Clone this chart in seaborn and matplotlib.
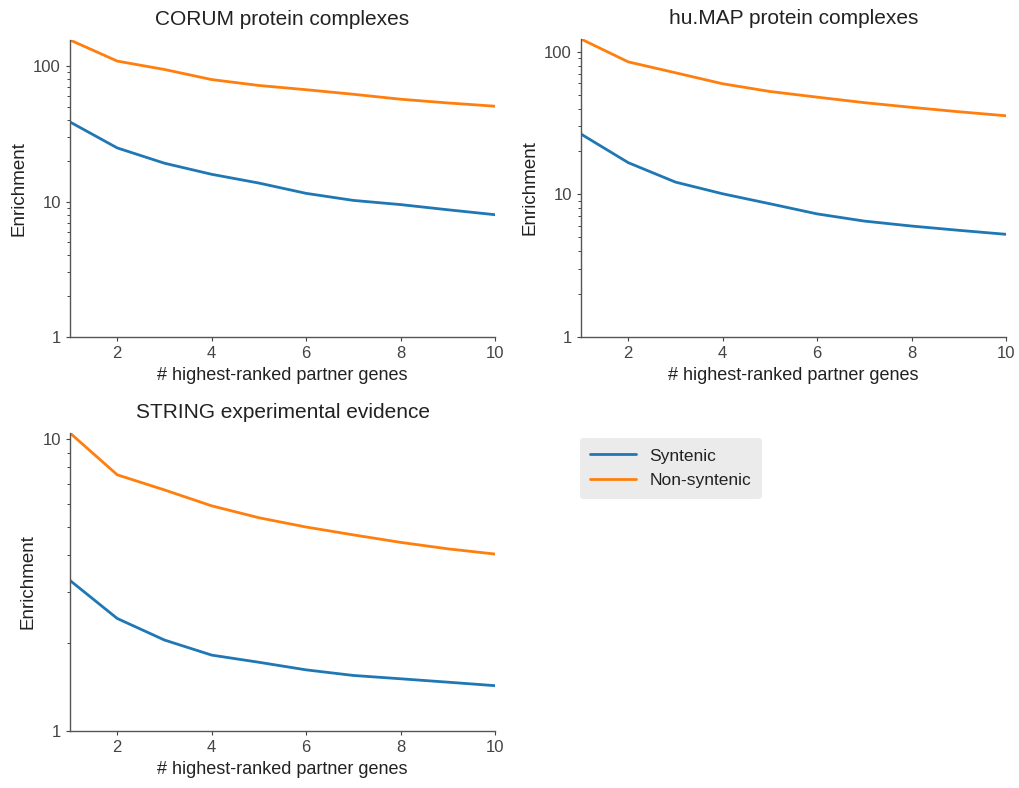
import pandas as pd
import matplotlib.pyplot as plt
import matplotlib.ticker as mticker
import seaborn as sns

# number of highest-ranked partner genes
n_partners = [1, 2, 3, 4, 5, 6, 7, 8, 9, 10]

corum_syntenic = [38.7, 24.9, 19.2, 15.9, 13.7, 11.5, 10.2, 9.5, 8.7, 8.0]
corum_nonsyntenic = [156, 109, 94.5, 79.6, 72, 67, 62, 57, 53.5, 50.6]

humap_syntenic = [26.5, 16.7, 12.2, 10.1, 8.6, 7.3, 6.5, 6.0, 5.6, 5.25]
humap_nonsyntenic = [123, 85, 71.3, 59.7, 52.7, 48.1, 44, 40.8, 38, 35.6]

string_syntenic = [3.28, 2.43, 2.05, 1.82, 1.72, 1.62, 1.55, 1.51, 1.47, 1.43]
string_nonsyntenic = [10.5, 7.55, 6.7, 5.91, 5.38, 5.0, 4.7, 4.43, 4.21, 4.04]

titles = ['CORUM protein complexes', 'hu.MAP protein complexes', 'STRING experimental evidence']
series_names = ['Syntenic', 'Non-syntenic']
colors = ['#1f77b4', '#ff7f0e']

sns.set_style('ticks')
plt.rcParams['font.family'] = ['Liberation Sans', 'DejaVu Sans']
plt.rcParams['text.color'] = '#222222'
plt.rcParams['axes.labelcolor'] = '#222222'
plt.rcParams['xtick.color'] = '#444444'
plt.rcParams['ytick.color'] = '#444444'


def make_df(syn, nonsyn):
    df = pd.DataFrame({'n': n_partners * 2,
                       'Enrichment': syn + nonsyn,
                       'kind': [series_names[0]] * len(n_partners) + [series_names[1]] * len(n_partners)})
    return df


def plot_panel(ax, df, title):
    sns.lineplot(data=df, x='n', y='Enrichment', hue='kind', palette=colors,
                 linewidth=2.0, ax=ax)
    ax.set_yscale('log')
    ax.set_xlim(1, 10)
    ax.set_ylim(1, df['Enrichment'].max())
    ax.set_xticks([2, 4, 6, 8, 10])
    ax.yaxis.set_major_formatter(mticker.FuncFormatter(lambda v, p: f'{v:g}'))
    ax.yaxis.set_minor_formatter(mticker.NullFormatter())
    ax.tick_params(axis='both', labelsize=12, length=3, width=0.8, pad=3.5)
    ax.tick_params(axis='y', which='minor', length=2.5, width=0.7)
    for sp in ['left', 'bottom']:
        ax.spines[sp].set_color('#555555')
        ax.spines[sp].set_linewidth(1.0)
    ax.set_title(title, fontsize=15, pad=11)
    ax.set_xlabel('# highest-ranked partner genes', fontsize=13, labelpad=4)
    ax.set_ylabel('Enrichment', fontsize=13.5, labelpad=4)
    sns.despine(ax=ax)


fig = plt.figure(figsize=(10.19, 7.88), dpi=100)
W, H = 1019, 788
ax1 = fig.add_axes([70 / W, 1 - 337 / H, 425 / W, 297 / H])
ax2 = fig.add_axes([581 / W, 1 - 337 / H, 425 / W, 298 / H])
ax3 = fig.add_axes([70 / W, 1 - 731 / H, 425 / W, 298 / H])

plot_panel(ax1, make_df(corum_syntenic, corum_nonsyntenic), titles[0])
plot_panel(ax2, make_df(humap_syntenic, humap_nonsyntenic), titles[1])
plot_panel(ax3, make_df(string_syntenic, string_nonsyntenic), titles[2])

handles, labels = ax1.get_legend_handles_labels()
for ax in [ax1, ax2, ax3]:
    ax.get_legend().remove()

fig.legend(handles, labels, loc='upper left', bbox_to_anchor=(580 / W, 1 - 438 / H),
           borderaxespad=0, frameon=True, facecolor='#ebebeb', edgecolor='none', framealpha=1,
           fontsize=12.5, handlelength=2.6, borderpad=0.6, labelspacing=0.55)

fig.savefig('out.png', dpi=100)
